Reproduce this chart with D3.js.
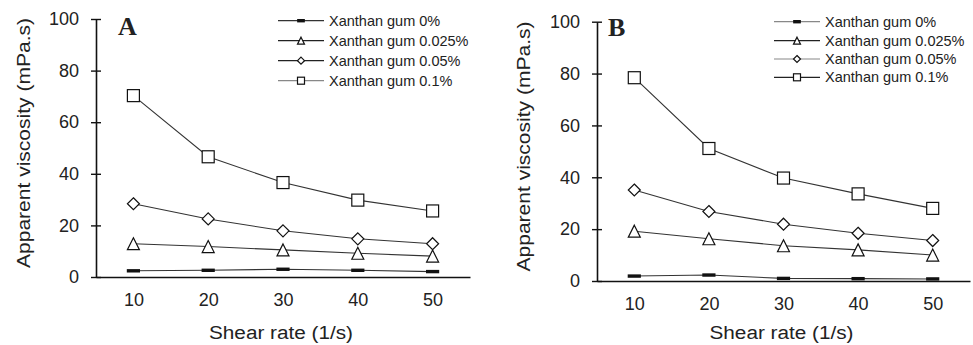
<!DOCTYPE html>
<html><head><meta charset="utf-8">
<script src="https://cdn.jsdelivr.net/npm/d3@7"></script>
<style>
body{margin:0;background:#fff;}
svg text{font-family:"Liberation Sans",Arial,sans-serif;fill:#222;}
</style></head>
<body><svg id="c" width="973" height="345"></svg>
<script>
const shearRates = [10, 20, 30, 40, 50];
const seriesNames = ["Xanthan gum 0%", "Xanthan gum 0.025%", "Xanthan gum 0.05%", "Xanthan gum 0.1%"];
const xTicks = [10, 20, 30, 40, 50];
const yTicks = [0, 20, 40, 60, 80, 100];
const panelA_0 = [2.4, 2.6, 3.0, 2.6, 2.1];
const panelA_0025 = [12.9, 11.8, 10.5, 9.2, 8.1];
const panelA_005 = [28.4, 22.5, 17.9, 14.8, 12.9];
const panelA_01 = [70.3, 46.6, 36.6, 29.8, 25.6];
const panelB_0 = [1.9, 2.3, 1.0, 0.9, 0.8];
const panelB_0025 = [19.2, 16.3, 13.6, 12.0, 10.0];
const panelB_005 = [35.1, 26.8, 21.9, 18.4, 15.6];
const panelB_01 = [78.4, 51.1, 39.7, 33.6, 28.0];

const svg = d3.select("#c");
const markerTypes = ["bar", "triangle", "diamond", "square"];

function drawMarker(g, type, x, y, s) {
  if (type === "bar") {
    g.append("rect").attr("x", x - s*0.55).attr("y", y - 1.7).attr("width", s*1.1).attr("height", 3.4).attr("fill", "#111");
  } else if (type === "square") {
    g.append("rect").attr("x", x - s/2).attr("y", y - s/2).attr("width", s).attr("height", s)
      .attr("fill", "#fff").attr("stroke", "#111").attr("stroke-width", 1.2);
  } else if (type === "diamond") {
    const h = s/2;
    g.append("path").attr("d", `M${x},${y-h}L${x+h},${y}L${x},${y+h}L${x-h},${y}Z`)
      .attr("fill", "#fff").attr("stroke", "#111").attr("stroke-width", 1.2);
  } else {
    const h = s/2;
    g.append("path").attr("d", `M${x},${y-h}L${x+h},${y+h}L${x-h},${y+h}Z`)
      .attr("fill", "#fff").attr("stroke", "#111").attr("stroke-width", 1.2);
  }
}

function panel(cfg) {
  const g = svg.append("g");
  const x = d3.scaleLinear().domain([5, 55]).range([cfg.x0, cfg.x1]);
  const y = d3.scaleLinear().domain([0, 100]).range([cfg.y0, cfg.y1]);

  const yAxis = d3.axisLeft(y).tickValues(yTicks).tickSize(0).tickPadding(17);
  const ya = g.append("g").attr("transform", `translate(${cfg.x0},0)`).call(yAxis);
  ya.select(".domain").attr("stroke", "#111").attr("stroke-width", 1.6);
  ya.selectAll(".tick text").attr("font-size", 18).attr("fill", "#222").attr("font-family", "Liberation Sans, Arial, sans-serif");
  ya.selectAll(".tick").append("line").attr("x1", -5).attr("x2", 5).attr("stroke", "#111").attr("stroke-width", 1.4);

  const xAxis = d3.axisBottom(x).tickValues(xTicks).tickSize(0).tickPadding(16);
  const xa = g.append("g").attr("transform", `translate(0,${cfg.y0})`).call(xAxis);
  xa.select(".domain").attr("stroke", "#111").attr("stroke-width", 1.6);
  xa.selectAll(".tick text").attr("font-size", 18).attr("fill", "#222").attr("font-family", "Liberation Sans, Arial, sans-serif");

  g.append("text").attr("x", (cfg.x0 + cfg.x1)/2 - 2).attr("y", 339).attr("text-anchor", "middle")
    .attr("font-size", 18).attr("textLength", 144).attr("lengthAdjust", "spacingAndGlyphs")
    .text("Shear rate (1/s)");
  g.append("text").attr("transform", `translate(${cfg.ytx},${cfg.yty}) rotate(-90)`).attr("text-anchor", "middle")
    .attr("font-size", 19).attr("textLength", 250).attr("lengthAdjust", "spacingAndGlyphs")
    .text("Apparent viscosity (mPa.s)");

  g.append("text").attr("x", cfg.lblx).attr("y", cfg.lbly).attr("font-size", 26).attr("font-weight", "bold")
    .style("font-family", "Liberation Serif, Times New Roman, serif").attr("fill", "#111").text(cfg.label);

  const line = d3.line().x((d, i) => x(shearRates[i])).y(d => y(d));
  cfg.series.forEach((s) => {
    g.append("path").datum(s).attr("d", line).attr("fill", "none").attr("stroke", "#333").attr("stroke-width", 1.1);
  });
  cfg.series.forEach((s, k) => {
    s.forEach((v, i) => drawMarker(g, markerTypes[k], x(shearRates[i]), y(v), 12));
  });

  seriesNames.forEach((n, k) => {
    const ly = cfg.legY[k];
    g.append("line").attr("x1", cfg.legX).attr("x2", cfg.legX + 46).attr("y1", ly).attr("y2", ly)
      .attr("stroke", cfg.legCol[k]).attr("stroke-width", 1.2);
    drawMarker(g, markerTypes[k], cfg.legX + 23, ly, 7);
    g.append("text").attr("x", cfg.legX + 51).attr("y", ly + 5).attr("font-size", 14.5).text(n);
  });
}

panel({x0: 96, x1: 470, y0: 277, y1: 19, ytx: 30, yty: 143, label: "A", lblx: 118, lbly: 35,
  series: [panelA_0, panelA_0025, panelA_005, panelA_01],
  legX: 278, legY: [20.7, 40.7, 60.7, 80.7], legCol: ["#333", "#222", "#222", "#888"]});
panel({x0: 597, x1: 970, y0: 281, y1: 21.7, ytx: 530, yty: 146.5, label: "B", lblx: 608, lbly: 36,
  series: [panelB_0, panelB_0025, panelB_005, panelB_01],
  legX: 774, legY: [21.7, 40.7, 59, 77.3], legCol: ["#888", "#222", "#888", "#222"]});
</script></body></html>
